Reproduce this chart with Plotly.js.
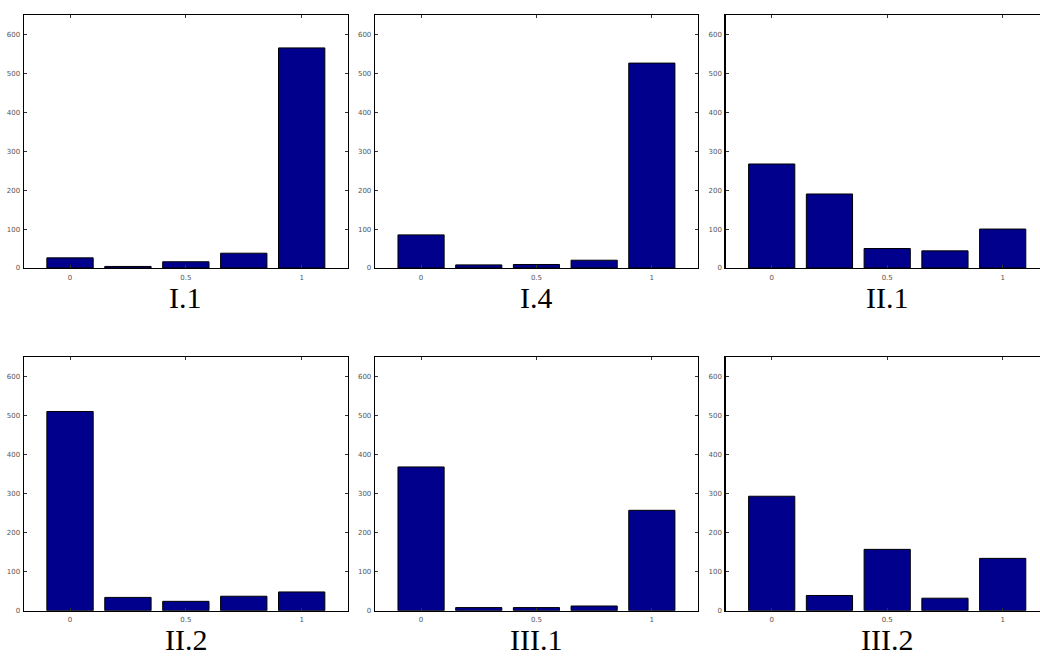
<!DOCTYPE html>
<html>
<head>
<meta charset="utf-8">
<script src="https://cdn.plot.ly/plotly-3.0.1.min.js"></script>
<style>
html, body { margin: 0; padding: 0; overflow: hidden; background: #fff; width: 1040px; height: 656px; }
#chart { width: 1050px; height: 656px; }
</style>
</head>
<body>
<div id="chart"></div>
<script>
// Bin centres (x values)
const bins = [0, 0.25, 0.5, 0.75, 1];
// Panel titles
const panelTitles = ["I.1", "I.4", "II.1", "II.2", "III.1", "III.2"];
// Counts per panel
const countsI1   = [26, 4, 16, 38, 565];
const countsI4   = [85, 8, 9, 20, 526];
const countsII1  = [267, 190, 50, 44, 100];
const countsII2  = [510, 34, 24, 37, 48];
const countsIII1 = [368, 8, 8, 12, 257];
const countsIII2 = [293, 39, 157, 32, 134];
// Axis ticks
const xTickVals = [0, 0.5, 1];
const xTickText = ["0", "0.5", "1"];
const yTickVals = [0, 100, 200, 300, 400, 500, 600];

const allCounts = [countsI1, countsI4, countsII1, countsII2, countsIII1, countsIII2];

const W = 1050, H = 656;
const xDomains = [[23.7 / W, 348 / W], [374.9 / W, 698 / W], [725.5 / W, 1048.9 / W]];
const yDomains = [[388 / H, 641.2 / H], [45.3 / H, 299.2 / H]];
const titleY = [(H - 297) / H, (H - 639) / H];

const traces = [];
const layout = {
  width: W, height: H,
  margin: { l: 0, r: 0, t: 0, b: 0 },
  paper_bgcolor: '#ffffff',
  plot_bgcolor: '#ffffff',
  showlegend: false,
  bargap: 0.2,
  annotations: []
};

allCounts.forEach((counts, i) => {
  const n = i + 1;
  const row = Math.floor(i / 3), col = i % 3;
  const xa = n === 1 ? 'x' : 'x' + n;
  const ya = n === 1 ? 'y' : 'y' + n;
  traces.push({
    type: 'bar',
    x: bins,
    y: counts,
    width: 0.2,
    xaxis: xa, yaxis: ya,
    marker: { color: '#00008C', line: { color: '#000000', width: 1 } },
    hoverinfo: 'x+y'
  });
  const axCommon = {
    showgrid: false, zeroline: false,
    showline: true, linecolor: '#000000', linewidth: 1.2,
    mirror: 'ticks', ticks: 'inside', ticklen: 3, tickwidth: 1, tickcolor: '#333333',
    tickfont: { family: 'DejaVu Sans, sans-serif', size: 7, color: '#555555' },
    fixedrange: true
  };
  layout[n === 1 ? 'xaxis' : 'xaxis' + n] = Object.assign({}, axCommon, {
    domain: xDomains[col], range: [-0.2, 1.2],
    tickmode: 'array', tickvals: xTickVals, ticktext: xTickText,
    anchor: ya, ticklabelstandoff: 2
  });
  layout[n === 1 ? 'yaxis' : 'yaxis' + n] = Object.assign({}, axCommon, {
    domain: yDomains[row], range: [0, 650],
    tickmode: 'array', tickvals: yTickVals,
    anchor: xa, ticklabelstandoff: 1
  });
  layout.annotations.push({
    text: panelTitles[i],
    xref: xa, x: 0.5,
    yref: 'paper', y: titleY[row],
    xanchor: 'center', yanchor: 'middle',
    height: 28, valign: 'middle', borderpad: 0,
    showarrow: false,
    font: { family: 'Liberation Serif, Times New Roman, serif', size: 30, color: '#000000' }
  });
});

Plotly.newPlot('chart', traces, layout, { displayModeBar: false, staticPlot: true });
</script>
</body>
</html>
